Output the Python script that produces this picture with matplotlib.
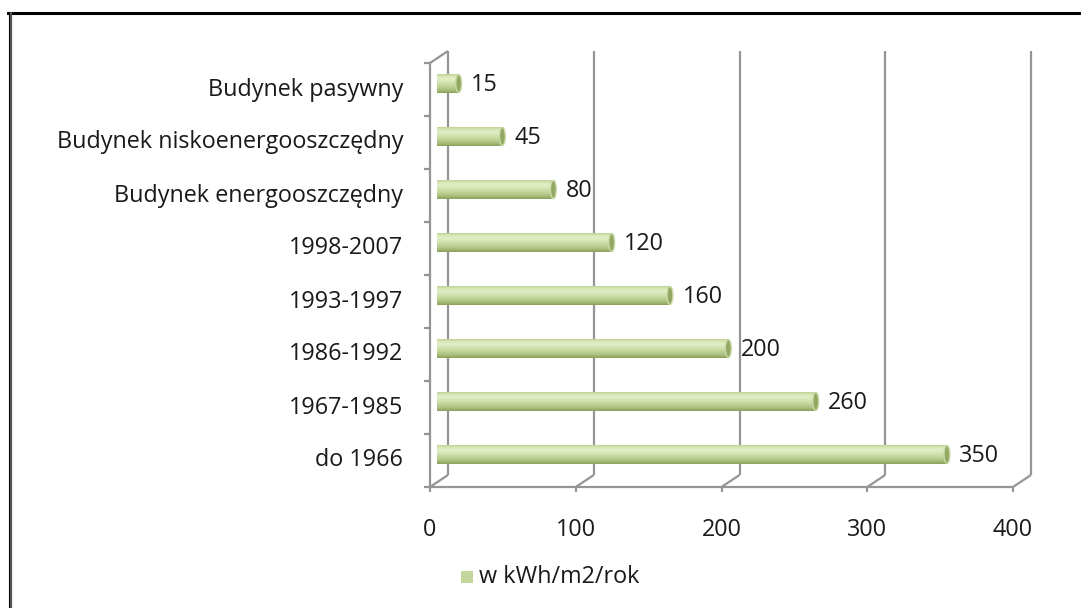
import numpy as np
import matplotlib
matplotlib.use("Agg")
from matplotlib import pyplot as plt
from matplotlib.patches import Ellipse, Rectangle
from matplotlib.colors import LinearSegmentedColormap

# data (bottom to top)
categories = ["do 1966", "1967-1985", "1986-1992", "1993-1997",
              "1998-2007", "Budynek energooszczędny",
              "Budynek niskoenergooszczędny", "Budynek pasywny"]
values = [350, 260, 200, 160, 120, 80, 45, 15]
x_ticks = [0, 100, 200, 300, 400]
series_name = "w kWh/m2/rok"

plt.rcParams['font.family'] = ['Open Sans', 'DejaVu Sans']
FS = 16.8
TXT = "#1a1a1a"

W, H = 1081, 608
fig = plt.figure(figsize=(W / 100, H / 100), dpi=100)

# outer frame: thick top line and double left line
fig.add_artist(plt.Line2D([8 / W, 1], [1 - 13 / H, 1 - 13 / H], color="black", lw=2.2))
fig.add_artist(plt.Line2D([8.5 / W, 8.5 / W], [0, 1 - 13 / H], color="black", lw=0.8))
fig.add_artist(plt.Line2D([11 / W, 11 / W], [0, 1 - 13 / H], color="#555555", lw=1.6))

# front plane of the 3d plot in pixels
x0, x1 = 430, 1013
y_bot, y_top = 487, 63
ax = fig.add_axes([x0 / W, 1 - y_bot / H, (x1 - x0) / W, (y_bot - y_top) / H])
ax.set_xlim(0, 400)
ax.set_ylim(-0.5, len(categories) - 0.5)
ax.axis("off")

# depth offset (18 px right, 12 px up) in data units
dx = 18 / (x1 - x0) * 400
dy = 12 / (y_bot - y_top) * len(categories)
ylo, yhi = -0.5, len(categories) - 0.5 + dy

grid_c = "#959595"
kw = dict(color=grid_c, lw=1.6, clip_on=False, solid_capstyle="butt")
# back wall gridlines + floor diagonals
for t in x_ticks:
    ax.plot([t + dx, t + dx], [ylo + dy, yhi], **kw)
    ax.plot([t, t + dx], [ylo, ylo + dy], **kw)
    ax.plot([t, t], [ylo, ylo - 0.1], **kw)
# floor front edge and left wall edge
ax.plot([0, 400], [ylo, ylo], **kw)
ax.plot([0, 0], [ylo, yhi - dy], **kw)
ax.plot([0, dx], [yhi - dy, yhi], **kw)
for k in range(len(categories) + 1):
    ax.plot([-4.2, 0], [k - 0.5, k - 0.5], **kw)

# cylinder bars
cyl = LinearSegmentedColormap.from_list(
    "cyl", [(0, "#8aa05a"), (0.18, "#adc281"), (0.45, "#cbdca3"),
            (0.72, "#e2edc6"), (0.88, "#d9e7b7"), (1, "#bfd296")])
bh = 0.34
for i, v in enumerate(values):
    yc = i + dy / 2
    left = dx / 2 - 1.5
    grad = np.linspace(0, 1, 64).reshape(-1, 1)
    ax.imshow(grad, cmap=cyl, aspect="auto", origin="lower",
              extent=[left, left + v, yc - bh / 2, yc + bh / 2], zorder=3)
    ax.add_patch(Ellipse((left + v, yc), 4.0, bh, fc="#93a862", ec="#c9d9a6",
                         lw=1.0, zorder=4))
    ax.text(left + v + 8.5, yc - 0.02, str(v), ha="left", va="center",
            fontsize=FS, color=TXT)

# category labels
for i, c in enumerate(categories):
    ax.text(-18.5, i, c, ha="right", va="center", fontsize=FS, color=TXT)

# value axis labels
for t in x_ticks:
    ax.text(t, -1.32, str(t), ha="center", va="center", fontsize=FS, color=TXT)

ax.set_xlim(0, 400)
ax.set_ylim(-0.5, len(categories) - 0.5)

# legend
fig.add_artist(Rectangle((461 / W, 1 - 583 / H), 12 / W, 12 / H,
                         transform=fig.transFigure, fc="#c3d69b", ec="none"))
fig.text(479 / W, 1 - 577 / H, series_name, ha="left", va="center",
         fontsize=FS, color=TXT)

fig.savefig("out.png", dpi=100, facecolor="white")
